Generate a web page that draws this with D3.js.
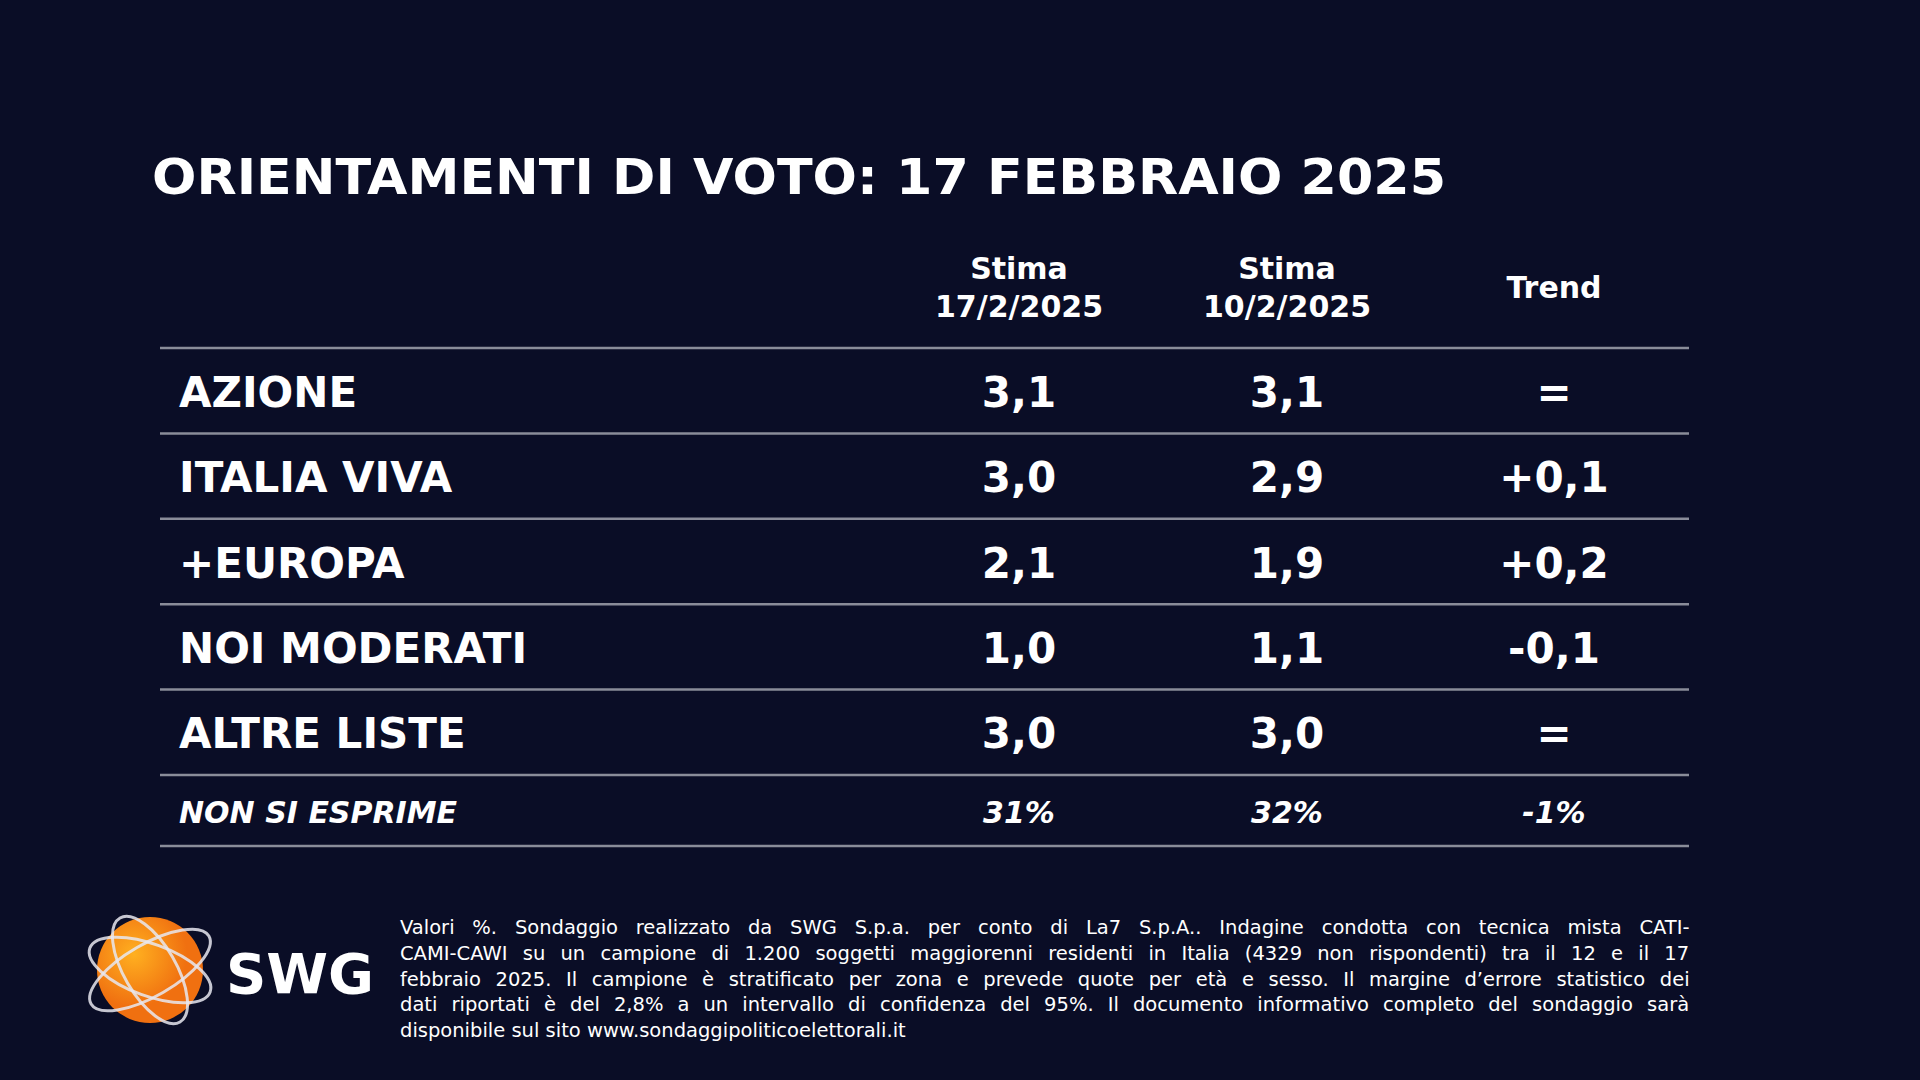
<!DOCTYPE html>
<html><head><meta charset="utf-8">
<script src="https://cdn.jsdelivr.net/npm/d3@7"></script>
<style>body{margin:0;background:#0a0d26}svg{display:block}</style>
</head><body>
<svg width="1920" height="1080"></svg>
<script>
var parties = ["AZIONE", "ITALIA VIVA", "+EUROPA", "NOI MODERATI", "ALTRE LISTE"];
var stima17 = ["3,1", "3,0", "2,1", "1,0", "3,0"];
var stima10 = ["3,1", "2,9", "1,9", "1,1", "3,0"];
var trend = ["=", "+0,1", "+0,2", "-0,1", "="];
var nonSiEsprime = ["NON SI ESPRIME", "31%", "32%", "-1%"];
var headers = [["Stima", "17/2/2025"], ["Stima", "10/2/2025"], ["Trend"]];
var footLines = [
  "Valori %. Sondaggio realizzato da SWG S.p.a. per conto di La7 S.p.A.. Indagine condotta con tecnica mista CATI-",
  "CAMI-CAWI su un campione di 1.200 soggetti maggiorenni residenti in Italia (4329 non rispondenti) tra il 12 e il 17",
  "febbraio 2025. Il campione è stratificato per zona e prevede quote per età e sesso. Il margine d’errore statistico dei",
  "dati riportati è del 2,8% a un intervallo di confidenza del 95%. Il documento informativo completo del sondaggio sarà",
  "disponibile sul sito www.sondaggipoliticoelettorali.it"
];

var svg = d3.select("svg");
var font = "'DejaVu Sans', Verdana, sans-serif";
svg.append("rect").attr("width", 1920).attr("height", 1080).attr("fill", "#0a0d26");

svg.append("text").attr("x", 152).attr("y", 194).attr("fill", "#fff")
  .attr("font-family", font).attr("font-weight", 700).attr("font-size", 50)
  .attr("textLength", 1294).attr("lengthAdjust", "spacingAndGlyphs")
  .text("ORIENTAMENTI DI VOTO: 17 FEBBRAIO 2025");

var colX = [1019, 1287, 1554];
var y = d3.scaleBand().domain(d3.range(parties.length)).range([348, 775]);

headers.forEach(function(h, i) {
  var t = svg.append("text").attr("x", colX[i]).attr("text-anchor", "middle")
    .attr("fill", "#fff").attr("font-family", font).attr("font-weight", 700).attr("font-size", 30);
  if (h.length === 1) t.attr("y", 298).text(h[0]);
  else h.forEach(function(s, k) { t.append("tspan").attr("x", colX[i]).attr("y", 279 + k * 38).text(s); });
});

var lines = [348].concat(parties.map(function(d, i) { return y(i) + y.bandwidth(); })).concat([846]);
svg.selectAll("line.r").data(lines).enter().append("line")
  .attr("x1", 160).attr("x2", 1689).attr("y1", function(d) { return d; }).attr("y2", function(d) { return d; })
  .attr("stroke", "#8a8c99").attr("stroke-width", 2.5);

var rows = parties.map(function(p, i) { return [p, stima17[i], stima10[i], trend[i]]; });
rows.forEach(function(r, i) {
  var cy = y(i) + y.bandwidth() / 2 + 16;
  r.forEach(function(v, j) {
    svg.append("text").attr("x", j === 0 ? 179 : colX[j - 1]).attr("y", cy)
      .attr("text-anchor", j === 0 ? "start" : "middle").attr("fill", "#fff")
      .attr("font-family", font).attr("font-weight", 700).attr("font-size", 42).text(v);
  });
});
nonSiEsprime.forEach(function(v, j) {
  svg.append("text").attr("x", j === 0 ? 179 : colX[j - 1]).attr("y", 823)
    .attr("text-anchor", j === 0 ? "start" : "middle").attr("fill", "#fff")
    .attr("font-family", font).attr("font-weight", 700).attr("font-style", "italic")
    .attr("font-size", 30).text(v);
});

// footer, justified
var fx0 = 400, fx1 = 1689;
footLines.forEach(function(s, i) {
  var t = svg.append("text").attr("y", 934 + i * 25.8).attr("fill", "#fff")
    .attr("font-family", font).attr("font-size", 19.5);
  var words = s.split(" ");
  if (i === footLines.length - 1) { t.attr("x", fx0).text(s); return; }
  var tmp = svg.append("text").attr("font-family", font).attr("font-size", 19.5).text(words.join(""));
  var w = tmp.node().getComputedTextLength(); tmp.remove();
  var gap = (fx1 - fx0 - w) / (words.length - 1), x = fx0;
  words.forEach(function(wd) {
    var ts = t.append("tspan").attr("x", x).text(wd);
    x += ts.node().getComputedTextLength() + gap;
  });
});

// logo
var lg = svg.append("g").attr("transform", "translate(150,970)");
var grad = svg.append("defs").append("radialGradient").attr("id", "og").attr("cx", "35%").attr("cy", "35%");
grad.append("stop").attr("offset", "0%").attr("stop-color", "#ffb020");
grad.append("stop").attr("offset", "100%").attr("stop-color", "#f07010");
lg.append("circle").attr("r", 53).attr("fill", "url(#og)");
[-30, 20, 60].forEach(function(a, k) {
  lg.append("ellipse").attr("rx", 68 - k * 4).attr("ry", 26).attr("transform", "rotate(" + a + ")")
    .attr("fill", "none").attr("stroke", "#e8e8f0").attr("stroke-width", 3).attr("opacity", 0.85);
});
svg.append("text").attr("x", 226).attr("y", 993).attr("fill", "#fff")
  .attr("font-family", font).attr("font-weight", 700).attr("font-size", 56).text("SWG");
</script>
</body></html>
